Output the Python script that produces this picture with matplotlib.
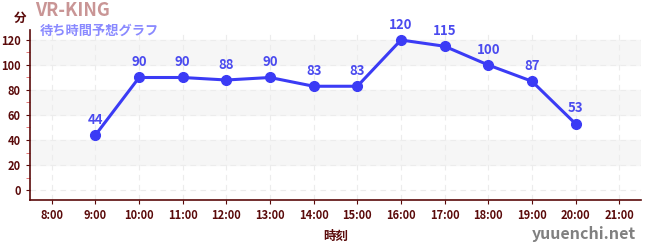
import matplotlib
matplotlib.use("Agg")
from matplotlib import pyplot as plt
from matplotlib.ticker import MultipleLocator

plt.rcParams['font.family'] = ['Noto Sans CJK JP', 'DejaVu Sans']

# data
hours = [9, 10, 11, 12, 13, 14, 15, 16, 17, 18, 19, 20]
waits = [44, 90, 90, 88, 90, 83, 83, 120, 115, 100, 87, 53]
tick_hours = list(range(8, 22))
tick_labels = ["%d:00" % h for h in tick_hours]
title = "VR-KING"
subtitle = "待ち時間予想グラフ"

dark = "#5a0a0a"
blue = "#3b3bf5"

fig = plt.figure(figsize=(6.5, 2.5), dpi=100)
ax = fig.add_axes([30 / 650, 50 / 250, 611 / 650, 170 / 250])

# alternating bands
for lo in (20, 60, 100):
    ax.axhspan(lo, lo + 20, color="#f6f6f6", zorder=0)

ax.plot(hours, waits, color=blue, linewidth=2.2, marker="o", markersize=7, zorder=3)
for h, w in zip(hours, waits):
    ax.annotate(str(w), (h, w), xytext=(0, 6), textcoords="offset points",
                ha="center", va="bottom", color="#4b4bef", fontsize=9.5,
                fontweight="bold", zorder=4)

ax.set_xlim(7.5, 21.5)
ax.set_ylim(-8, 128)
ax.set_xticks(tick_hours)
ax.set_xticklabels(tick_labels)
ax.yaxis.set_major_locator(MultipleLocator(20))
ax.yaxis.set_minor_locator(MultipleLocator(10))
ax.tick_params(axis="both", which="major", colors=dark, labelsize=8, length=3)
ax.tick_params(axis="y", which="minor", color="#e06060", length=3)
for lab in ax.get_xticklabels() + ax.get_yticklabels():
    lab.set_fontweight("bold")

ax.grid(True, which="major", color="#ececec", linestyle=(0, (5, 4)), linewidth=0.8)
ax.set_axisbelow(True)
for s in ("top", "right"):
    ax.spines[s].set_visible(False)
for s in ("left", "bottom"):
    ax.spines[s].set_color(dark)
    ax.spines[s].set_linewidth(1.2)

ax.set_xlabel("時刻", color=dark, fontsize=9, fontweight="bold", labelpad=6)

fig.text(14 / 650, 1 - 18 / 250, "分", color=dark, fontsize=9, fontweight="bold", va="center")
fig.text(35 / 650, 1 - 11 / 250, title, color="#c99595", fontsize=13, fontweight="bold", va="center")
fig.text(40 / 650, 1 - 31 / 250, subtitle, color="#8a8aff", fontsize=9.5, fontweight="bold", va="center")
fig.text(636 / 650, 1 - 234 / 250, "yuuenchi.net", color="#808080", fontsize=11.5,
         fontweight="bold", ha="right", va="center")

fig.savefig("out.png", dpi=100)
